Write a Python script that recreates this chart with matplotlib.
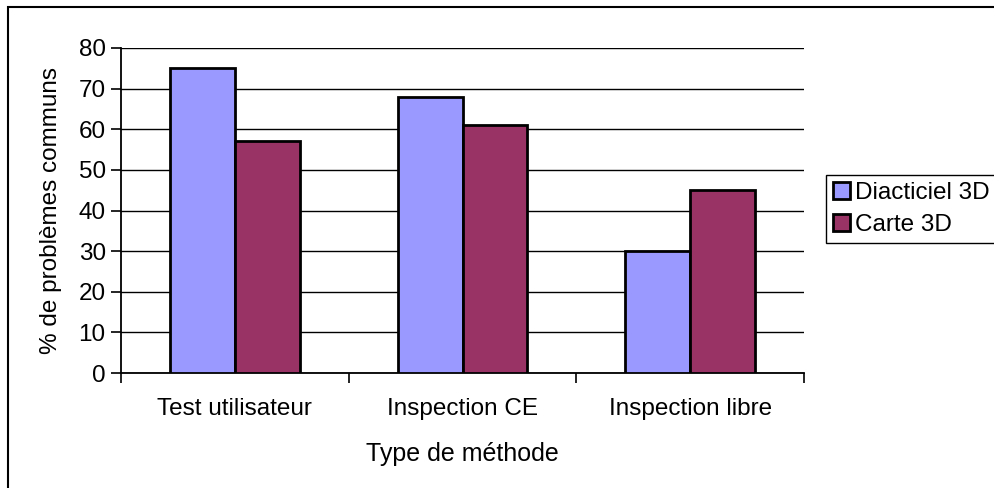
import matplotlib.pyplot as plt
import matplotlib.patches as mpatches
import numpy as np

plt.rcParams['font.family'] = ['Liberation Sans', 'DejaVu Sans']

categories = ['Test utilisateur', 'Inspection CE', 'Inspection libre']
diacticiel = [75, 68, 30]
carte = [57, 61, 45]
series_names = ['Diacticiel 3D', 'Carte 3D']
yticks = [0, 10, 20, 30, 40, 50, 60, 70, 80]

fs = 17.5

fig = plt.figure(figsize=(9.94, 4.88), dpi=100)
ax = fig.add_axes([121/994, 1-373/488, (804-121)/994, (373-48)/488])

# outer chart border (only left/top visible in the reference)
fig.patches.append(mpatches.Rectangle((8/994, -0.05), 1.2, 1-7/488+0.05,
                                      transform=fig.transFigure, fill=False,
                                      edgecolor='black', linewidth=1.5))

x = np.arange(len(categories))
w = 0.285
ax.bar(x - w/2, diacticiel, w, color='#9999FF', edgecolor='black', linewidth=2,
       label=series_names[0], zorder=3)
ax.bar(x + w/2, carte, w, color='#993366', edgecolor='black', linewidth=2,
       label=series_names[1], zorder=3)

ax.set_xlim(-0.5, len(categories) - 0.5)
ax.set_ylim(0, 80)
ax.set_yticks(yticks)
ax.yaxis.grid(True, color='black', linewidth=1)
ax.set_axisbelow(True)

ax.set_xticks(x)
ax.set_xticklabels(categories, fontsize=fs)
ax.tick_params(axis='x', which='major', length=0, pad=18)
ax.set_xticks(np.arange(-0.5, len(categories)), minor=True)
ax.tick_params(axis='x', which='minor', length=7, width=1.2, direction='out')
ax.tick_params(axis='y', labelsize=fs, length=7, width=1.2, pad=4)

for s in ['top', 'right']:
    ax.spines[s].set_visible(False)
for s in ['left', 'bottom']:
    ax.spines[s].set_linewidth(1.3)

ax.set_xlabel('Type de méthode', fontsize=18, labelpad=16)
ax.set_ylabel('% de problèmes communs', fontsize=fs, labelpad=12)

leg = fig.legend(loc='upper left', bbox_to_anchor=(826/994, 1-175/488),
                 frameon=True, fancybox=False, fontsize=fs, handlelength=0.7,
                 handleheight=0.7, handletextpad=0.2, borderpad=0.3,
                 labelspacing=0.4, borderaxespad=0)
leg.get_frame().set_edgecolor('black')
leg.get_frame().set_linewidth(1)
leg.get_frame().set_alpha(None)

fig.savefig('out.png', dpi=100)
